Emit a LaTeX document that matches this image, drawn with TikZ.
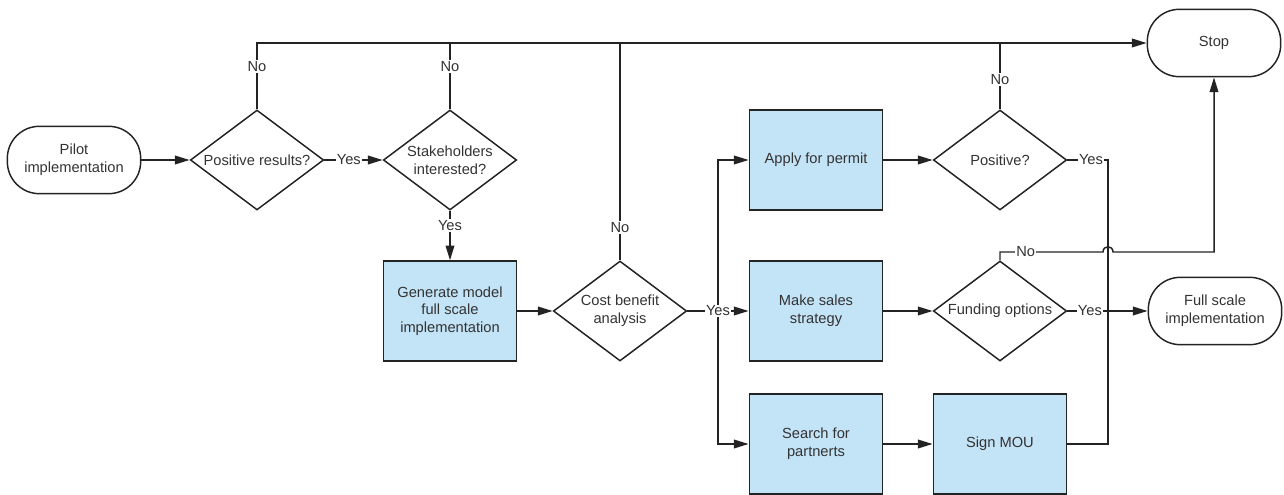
\documentclass[tikz,border=0pt]{standalone}
\usepackage{fontspec}
\setmainfont{Liberation Sans}
\usetikzlibrary{shapes.geometric,arrows.meta}
\definecolor{boxblue}{RGB}{195,227,246}
\definecolor{txt}{RGB}{51,51,51}
\definecolor{ln}{RGB}{35,35,35}
\begin{document}
\begin{tikzpicture}[x=0.75pt,y=-0.75pt,
  every node/.style={font=\fontsize{11}{13.3}\selectfont, text=txt},
  term/.style={draw=ln, line width=1.1pt, rounded corners=24pt, minimum width=100pt, minimum height=50.5pt, align=center, inner sep=0pt},
  proc/.style={draw=ln, line width=1.1pt, fill=boxblue, minimum width=100pt, minimum height=75pt, align=center, inner sep=0pt},
  dec/.style={draw=ln, line width=1.1pt, diamond, minimum width=100pt, minimum height=75pt, inner sep=0pt},
  lbl/.style={fill=white, inner sep=1pt},
  conn/.style={draw=ln, line width=1.1pt},
  arr/.style={conn, -{Triangle[length=11pt,width=6.5pt]}}
]
\useasboundingbox (0,0) rectangle (1284,495);

\node[term] (pilot) at (74,160) {Pilot\\implementation};
\node[dec, label={[align=center]center:{Positive results?}}] (d1) at (257,160) {};
\node[dec, label={[align=center]center:{Stakeholders\\interested?}}] (d2) at (450,160) {};
\node[proc] (gen) at (450,311) {Generate model\\full scale\\implementation};
\node[dec, label={[align=center]center:{Cost benefit\\analysis}}] (cba) at (620,311) {};
\node[proc] (apply) at (816,160) {Apply for permit};
\node[proc] (sales) at (816,311) {Make sales\\strategy};
\node[proc] (search) at (816,444) {Search for\\partnerts};
\node[proc] (sign) at (1000,444) {Sign MOU};
\node[dec, label={[align=center]center:{Positive?}}] (posq) at (1000,160) {};
\node[dec, label={[align=center]center:{Funding options}}] (fund) at (1000,311) {};
\node[term] (stop) at (1214,43) {Stop};
\node[term] (full) at (1215,311) {Full scale\\implementation};

% main flow
\draw[arr] (pilot) -- (d1);
\draw[arr] (d1) -- node[lbl,pos=0.42]{Yes} (d2);
\draw[arr] (d2) -- node[lbl,pos=0.3]{Yes} (gen);
\draw[arr] (gen) -- (cba);

% No branches to Stop
\draw[conn] (d2.north) -- node[lbl,pos=0.65]{No} (d2.north |- stop.west);
\draw[conn] (cba.north) -- node[lbl,pos=0.15]{No} (cba.north |- stop.west);
\draw[conn] (posq.north) -- node[lbl,pos=0.45]{No} (posq.north |- stop.west);
\draw[arr] (d1.north) -- node[lbl,pos=0.65]{No} (d1.north |- stop.west) -- (stop.west);

% split after cost benefit analysis
\coordinate (sp) at (718,311);
\draw[arr] (sp) |- (apply.west);
\draw[arr] (sp) |- (search.west);
\draw[arr] (cba.east) -- node[lbl,pos=0.5]{Yes} (sales.west);

\draw[arr] (apply) -- (posq);
\draw[arr] (sales) -- (fund);
\draw[arr] (search) -- (sign);

% merge into full scale implementation
\coordinate (jx) at (1108,160);
\draw[conn] (posq.east) -- node[lbl,pos=0.58]{Yes} (jx) -- (jx |- sign.east) -- (sign.east);
\draw[arr] (fund.east) -- node[lbl,pos=0.28]{Yes} (full.west);

% funding No to Stop with hop
\draw[arr] (fund.north) -- (1000,252) -- node[lbl,pos=0.25]{No} (1103,252)
  .. controls (1103,245) and (1113,245) .. (1113,252) -- (1214,252) -- (stop.south);
\end{tikzpicture}
\end{document}
